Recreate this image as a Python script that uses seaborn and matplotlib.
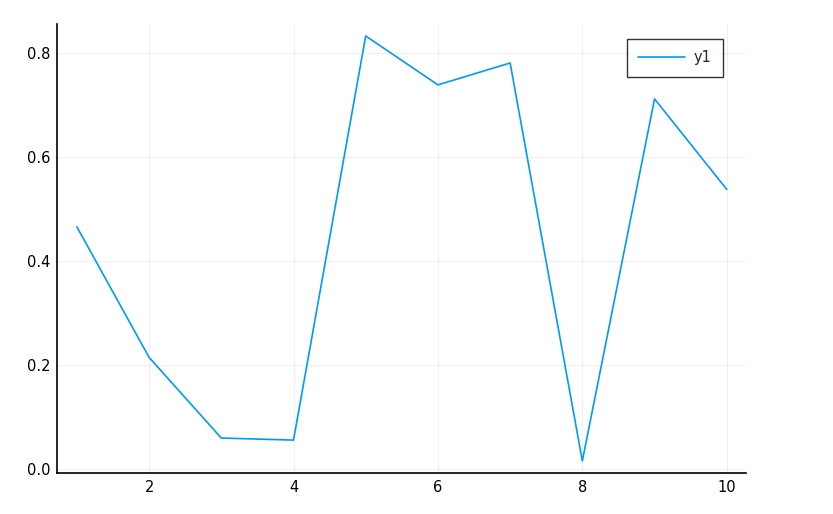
import matplotlib
matplotlib.use("Agg")
import matplotlib.pyplot as plt
import pandas as pd
import seaborn as sns

x_values = [1, 2, 3, 4, 5, 6, 7, 8, 9, 10]
y1_values = [0.465, 0.214, 0.059, 0.055, 0.832, 0.738, 0.780, 0.015, 0.711, 0.537]
x_ticks = [2, 4, 6, 8, 10]
y_ticks = [0.0, 0.2, 0.4, 0.6, 0.8]

sns.set_style("white")
plt.rcParams["font.family"] = ["DejaVu Sans"]

df = pd.DataFrame({"x": x_values, "y1": y1_values})

fig = plt.figure(figsize=(8.33, 5.14), dpi=100)
ax = fig.add_axes([0.0688, 0.0792, 0.8268, 0.8741])
sns.lineplot(data=df, x="x", y="y1", color="#009AFA", linewidth=1.2, label="y1", ax=ax)

ax.set_xlim(0.729, 10.267)
ax.set_ylim(-0.0088, 0.855)
ax.set_xticks(x_ticks)
ax.set_yticks(y_ticks)
ax.set_yticklabels([f"{v:.1f}" for v in y_ticks])
ax.set_xlabel("")
ax.set_ylabel("")
ax.grid(True, color="#000000", alpha=0.06, linewidth=0.8)
ax.tick_params(direction="in", length=5, width=1, labelsize=10.5, colors="black", pad=5)
for side in ["top", "right"]:
    ax.spines[side].set_visible(False)
for side in ["left", "bottom"]:
    ax.spines[side].set_color("black")
    ax.spines[side].set_linewidth(1.2)

leg = ax.legend(loc="upper right", bbox_to_anchor=(0.967, 0.967), borderaxespad=0, fontsize=10.5,
                frameon=True, fancybox=False, edgecolor="black", handlelength=3.2,
                handletextpad=0.6, borderpad=0.8)
leg.get_frame().set_linewidth(1.0)

fig.savefig("out.png", dpi=100)
